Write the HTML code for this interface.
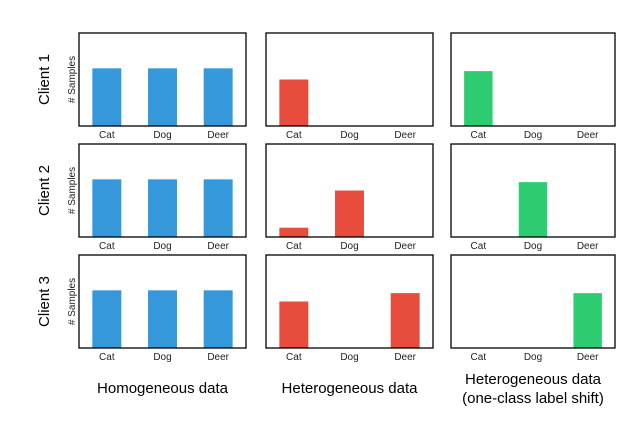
<!DOCTYPE html>
<html><head><meta charset="utf-8"><style>
body{margin:0;background:#fff;}
svg{display:block;font-family:"Liberation Sans",Arial,sans-serif;}
</style></head><body>
<svg id="c" width="618" height="428"></svg>
<script>
const categories = ["Cat","Dog","Deer"];
const clients = ["Client 1","Client 2","Client 3"];
const columnTitles = [["Homogeneous data"],["Heterogeneous data"],["Heterogeneous data","(one-class label shift)"]];
const colors = ["#3498db","#e74c3c","#2ecc71"];
const homogeneous = [[62,62,62],[62,62,62],[62,62,62]];
const heterogeneous = [[50,0,0],[10,50,0],[50,0,59]];
const labelShift = [[59,0,0],[0,59,0],[0,0,59]];
const yMax = 100;
const series = [homogeneous, heterogeneous, labelShift];

const NS="http://www.w3.org/2000/svg";
const svg=document.getElementById('c');
function mk(t,a,p){const e=document.createElementNS(NS,t);for(const k in a)e.setAttribute(k,a[k]);(p||svg).appendChild(e);return e;}
const colX=[79,266,451], colW=[167,167,164];
const rowY=[33,144,255], rowH=93;
function yScale(v,r){return rowY[r]+rowH - v/yMax*rowH;}
function xBand(i,c){const b=colW[c]/3;return colX[c]+b*i+b/2;}
for(let c=0;c<3;c++){
  for(let r=0;r<3;r++){
    const g=mk('g',{});
    
    
    const bw=colW[c]/3*0.52;
    series[c][r].forEach((v,i)=>{
      if(v<=0)return;
      const y=yScale(v,r);
      const b=mk('rect',{x:xBand(i,c)-bw/2,y:y,width:bw,height:rowY[r]+rowH-y,fill:colors[c]},g);
      
      
    });
    const f=mk('rect',{x:colX[c],y:rowY[r],width:colW[c],height:rowH,fill:'none',stroke:'#000','stroke-width':1.3},g);
    
    
    categories.forEach((cat,i)=>{
      const t=mk('text',{x:xBand(i,c),y:rowY[r]+rowH+12,'font-size':10,'text-anchor':'middle',fill:'#222'},g);
      t.textContent=cat;
      
      
    });
    if(c===0){
      const cy=rowY[r]+rowH/2;
      const yl=mk('text',{x:75,y:cy,'font-size':10,'text-anchor':'middle',transform:`rotate(-90 75 ${cy})`,fill:'#222'},g);
      yl.textContent='# Samples';
      
      
      const cl=mk('text',{x:49,y:cy,'font-size':15,'text-anchor':'middle',transform:`rotate(-90 49 ${cy})`,fill:'#000'},g);
      cl.textContent=clients[r];
      
      
    }
  }
  const lines=columnTitles[c];
  lines.forEach((ln,k)=>{
    const y=lines.length===1?393:384+k*19;
    const t=mk('text',{x:colX[c]+colW[c]/2,y:y,'font-size':15,'text-anchor':'middle',fill:'#000'});
    t.textContent=ln;
    
    
  });
}
</script>
</body></html>
